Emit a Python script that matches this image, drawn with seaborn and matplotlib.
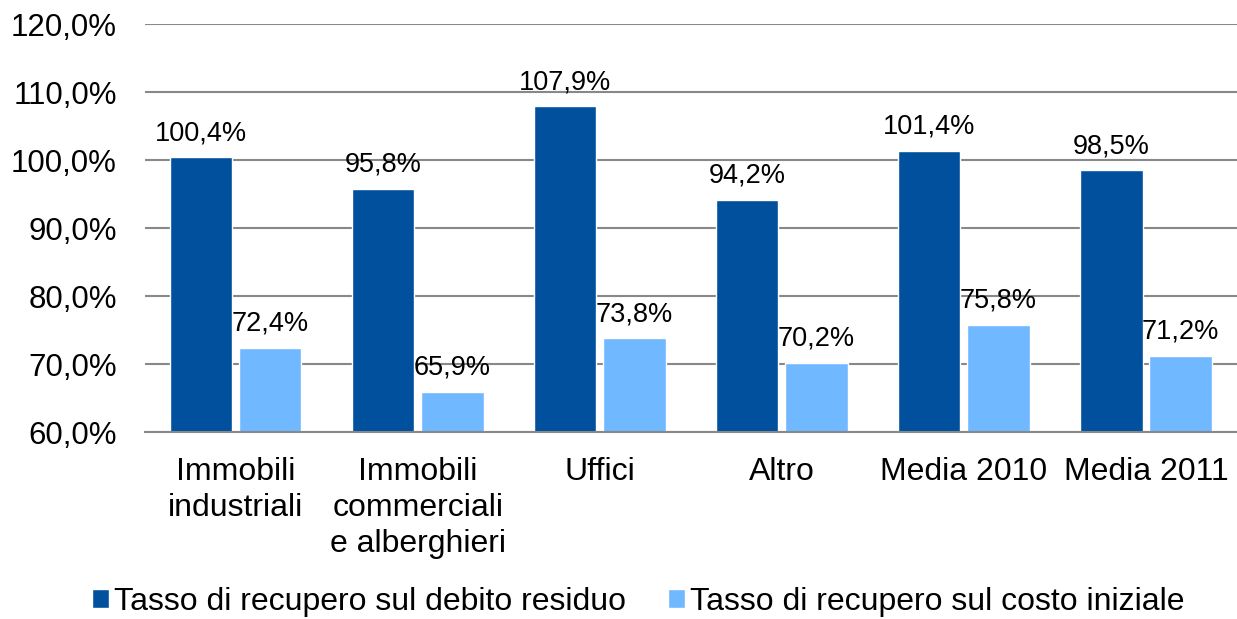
import pandas as pd
import seaborn as sns
from matplotlib import pyplot as plt
from matplotlib.ticker import FuncFormatter

CATEGORIES = [
    "Immobili\nindustriali",
    "Immobili\ncommerciali\ne alberghieri",
    "Uffici",
    "Altro",
    "Media 2010",
    "Media 2011",
]
SERIES = ["Tasso di recupero sul debito residuo", "Tasso di recupero sul costo iniziale"]
DEBITO_RESIDUO = [100.4, 95.8, 107.9, 94.2, 101.4, 98.5]
COSTO_INIZIALE = [72.4, 65.9, 73.8, 70.2, 75.8, 71.2]
COLORS = ["#00509E", "#70B8FF"]


def pct(v, _=None):
    return f"{v:.1f}%".replace(".", ",")


def main():
    sns.set_style("white")
    plt.rcParams["font.family"] = ["Liberation Sans", "DejaVu Sans"]
    plt.rcParams["text.color"] = "black"
    plt.rcParams["xtick.color"] = "black"
    plt.rcParams["ytick.color"] = "black"

    rows = []
    for series, values in zip(SERIES, [DEBITO_RESIDUO, COSTO_INIZIALE]):
        rows.extend({"cat": c, "series": series, "value": v} for c, v in zip(CATEGORIES, values))
    df = pd.DataFrame(rows)

    fig = plt.figure(figsize=(12.37, 6.19), dpi=100)
    ax = fig.add_axes([0.117, 0.302, 0.883, 0.659])
    sns.barplot(
        data=df, x="cat", y="value", hue="series", order=CATEGORIES, hue_order=SERIES,
        palette=COLORS, width=0.76, gap=0.1, ax=ax, zorder=2, saturation=1,
    )

    for container in ax.containers:
        ax.bar_label(container, labels=[pct(b.get_height()) for b in container],
                     padding=8, fontsize=19.5, color="black")

    ax.set_ylim(60, 120)
    ax.set_yticks(range(60, 121, 10))
    ax.yaxis.set_major_formatter(FuncFormatter(pct))
    ax.set_xlim(-0.5, 5.5)
    ax.grid(axis="y", color="#888888", linewidth=1.5, zorder=0)
    ax.tick_params(axis="y", labelsize=22.5, pad=20, length=0)
    ax.tick_params(axis="x", labelsize=23, pad=18, length=0)
    for lbl in ax.get_xticklabels():
        lbl.set_linespacing(1.25)
    ax.set_xlabel(None)
    ax.set_ylabel(None)
    for side in ["left", "right", "top"]:
        ax.spines[side].set_visible(False)
    ax.spines["bottom"].set_color("#888888")
    ax.spines["bottom"].set_linewidth(1.5)

    handles, labels = ax.get_legend_handles_labels()
    ax.get_legend().remove()
    fig.legend(handles, labels, loc="lower center", bbox_to_anchor=(0.516, -0.043), ncol=2,
               frameon=False, fontsize=23, handlelength=0.55, handleheight=0.55,
               handletextpad=0.15, columnspacing=1.3)

    fig.savefig("out.png", dpi=100)


if __name__ == "__main__":
    main()
